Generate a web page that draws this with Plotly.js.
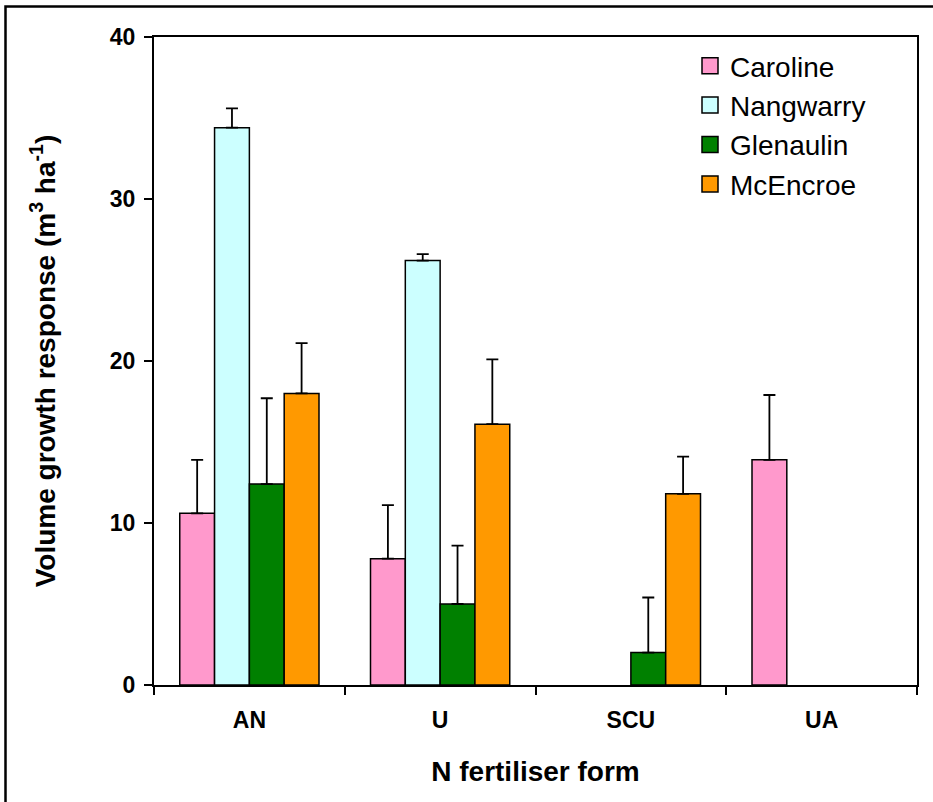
<!DOCTYPE html>
<html>
<head>
<meta charset="utf-8">
<script src="https://cdn.plot.ly/plotly-3.0.1.min.js"></script>
<style>
  html, body { margin: 0; padding: 0; background: #ffffff; }
  #chart { width: 933px; height: 802px; }
</style>
</head>
<body>
<div id="chart"></div>
<script>
// Fertiliser forms on the x axis
const forms = ["AN", "U", "SCU", "UA"];

// Site names and bar colours
const sites = ["Caroline", "Nangwarry", "Glenaulin", "McEncroe"];
const siteColors = ["#FF99CC", "#CCFFFF", "#008000", "#FF9900"];

// Volume growth response (m3/ha) per site, in the order of `forms`
const caroline  = [10.6, 7.8, null, 13.9];
const nangwarry = [34.4, 26.2, null, null];
const glenaulin = [12.4, 5.0, 2.0, null];
const mcencroe  = [18.0, 16.1, 11.8, null];

// Upper error (standard error) for each bar
const carolineErr  = [3.3, 3.3, null, 4.0];
const nangwarryErr = [1.2, 0.4, null, null];
const glenaulinErr = [5.3, 3.6, 3.4, null];
const mcencroeErr  = [3.1, 4.0, 2.3, null];

const values = [caroline, nangwarry, glenaulin, mcencroe];
const errors = [carolineErr, nangwarryErr, glenaulinErr, mcencroeErr];

const FONT = "Arial, 'Liberation Sans', sans-serif";

const traces = [];
sites.forEach((name, i) => {
  traces.push({
    type: "bar",
    name: name,
    x: forms,
    y: values[i],
    legendgroup: name,
    showlegend: false,
    marker: { color: siteColors[i], line: { color: "#000000", width: 1.5 } },
    error_y: {
      type: "data",
      symmetric: false,
      array: errors[i],
      arrayminus: errors[i].map(() => 0),
      color: "#000000",
      thickness: 1.8,
      width: 6
    },
    hoverinfo: "x+y+name"
  });
});

// Legend entries with larger square swatches
sites.forEach((name, i) => {
  traces.push({
    type: "scatter",
    mode: "markers",
    name: name,
    x: [null],
    y: [null],
    legendgroup: name,
    showlegend: true,
    marker: { symbol: "square", size: 18, color: siteColors[i], line: { color: "#000000", width: 1.5 } }
  });
});

// Plot area in pixels, used to place the legend and the outer frame
const W = 933, H = 802;
const M = { l: 154, r: 16, t: 37, b: 117 };
const pw = W - M.l - M.r, ph = H - M.t - M.b;
const px = v => (v - M.l) / pw;
const py = v => (H - M.b - v) / ph;

const layout = {
  width: W,
  height: H,
  margin: M,
  paper_bgcolor: "#ffffff",
  plot_bgcolor: "#ffffff",
  barmode: "group",
  bargap: 0.27,
  bargroupgap: 0,
  showlegend: true,
  font: { family: FONT, color: "#000000" },
  legend: {
    x: px(690),
    y: py(41),
    xanchor: "left",
    yanchor: "top",
    bgcolor: "rgba(0,0,0,0)",
    borderwidth: 0,
    tracegroupgap: 0,
    font: { family: FONT, size: 28, color: "#000000" }
  },
  xaxis: {
    type: "category",
    categoryorder: "array",
    categoryarray: forms,
    tickson: "boundaries",
    ticks: "outside",
    ticklen: 8,
    tickwidth: 2,
    tickcolor: "#000000",
    showline: true,
    linewidth: 2,
    linecolor: "#000000",
    mirror: true,
    showgrid: false,
    zeroline: false,
    ticklabelstandoff: 13,
    tickfont: { family: FONT, size: 23, color: "#000000", weight: "bold" },
    title: {
      text: "<b>N fertiliser form</b>",
      font: { family: FONT, size: 28, color: "#000000" },
      standoff: 30
    },
    automargin: false
  },
  yaxis: {
    range: [0, 40],
    dtick: 10,
    tick0: 0,
    ticks: "outside",
    ticklen: 8,
    tickwidth: 2,
    tickcolor: "#000000",
    showline: true,
    linewidth: 2,
    linecolor: "#000000",
    mirror: true,
    showgrid: false,
    zeroline: false,
    ticklabelstandoff: 4,
    tickfont: { family: FONT, size: 23, color: "#000000", weight: "bold" },
    title: {
      text: "<b>Volume growth response (m<sup>3</sup> ha<sup>-1</sup>)</b>",
      font: { family: FONT, size: 28, color: "#000000" },
      standoff: 46
    },
    automargin: false
  },
  shapes: [
    {
      type: "rect",
      xref: "paper",
      yref: "paper",
      x0: px(5.5),
      x1: px(960),
      y0: py(830),
      y1: py(6.5),
      line: { color: "#000000", width: 2.5 },
      fillcolor: "rgba(0,0,0,0)",
      layer: "below"
    }
  ]
};

Plotly.newPlot("chart", traces, layout, { displayModeBar: false, staticPlot: true });
</script>
</body>
</html>
